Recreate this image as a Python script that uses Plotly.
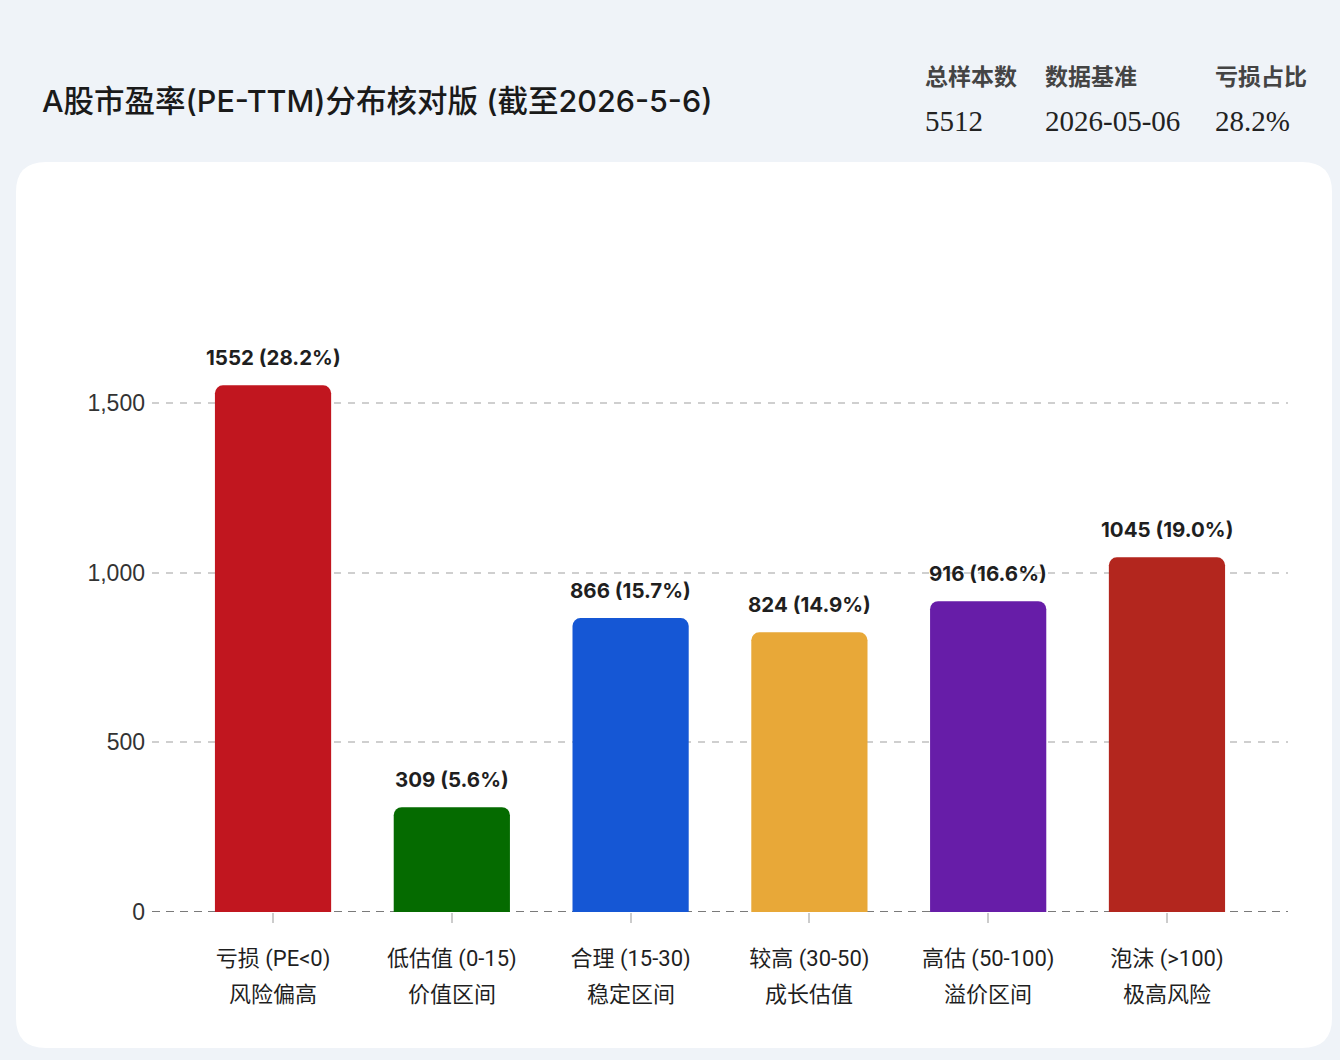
import plotly.graph_objects as go

# ---------------- data ----------------
categories = ["亏损 (PE<0)", "低估值 (0-15)", "合理 (15-30)", "较高 (30-50)", "高估 (50-100)", "泡沫 (>100)"]
subtitles = ["风险偏高", "价值区间", "稳定区间", "成长估值", "溢价区间", "极高风险"]
counts = [1552, 309, 866, 824, 916, 1045]
shares = [28.2, 5.6, 15.7, 14.9, 16.6, 19.0]
bar_colors = ["#c1161f", "#056b00", "#1557d5", "#e8a838", "#671da8", "#b3261e"]
y_ticks = [0, 500, 1000, 1500]
y_tick_text = ["0", "500", "1,000", "1,500"]

title_text = "A股市盈率(PE-TTM)分布核对版 (截至2026-5-6)"
stat_labels = ["总样本数", "数据基准", "亏损占比"]
stat_values = ["5512", "2026-05-06", "28.2%"]

# ---------------- geometry ----------------
W, H = 1340, 1060
L, R, T, B = 152, 52, 200, 148
PW, PH = W - L - R, H - T - B
Y_MAX = 2098
X_RANGE = [-0.677, len(categories) - 1 + 0.677]

SANS = "Inter, Noto Sans CJK SC, sans-serif"
LABEL = "Roboto, Noto Sans CJK SC, sans-serif"


def px(x):
    return (x - L) / PW


def py(y):
    return (H - B - y) / PH


fig = go.Figure()
fig.add_trace(go.Bar(
    x=list(range(len(categories))),
    y=counts,
    marker=dict(color=bar_colors, line=dict(width=0)),
    width=0.65,
    hoverinfo="skip",
))

# value labels above bars
for i, (c, s) in enumerate(zip(counts, shares)):
    fig.add_annotation(
        x=i, y=c, xref="x", yref="y",
        text=f"<b>{c} ({s:.1f}%)</b>",
        showarrow=False, yanchor="middle", yshift=28,
        font=dict(family=SANS, size=20.5, color="#1f1f1f"),
    )

# second line of category labels
for i, sub in enumerate(subtitles):
    fig.add_annotation(
        x=i, y=py(994), xref="x", yref="paper",
        text=sub, showarrow=False, yanchor="middle",
        font=dict(family=LABEL, size=22, color="#1f1f1f"),
    )

# header
fig.add_annotation(
    x=px(40), y=py(100), xref="paper", yref="paper", xanchor="left", yanchor="middle",
    text=title_text, showarrow=False,
    font=dict(family=SANS, size=30.5, color="#1a1a1a", weight=500),
)
stat_x = [923, 1043, 1213]
for sx, lab, val in zip(stat_x, stat_labels, stat_values):
    fig.add_annotation(
        x=px(sx), y=py(75), xref="paper", yref="paper", xanchor="left", yanchor="middle",
        text=lab, showarrow=False,
        font=dict(family="Noto Sans CJK SC", size=23, color="#444444", weight=600),
    )
    fig.add_annotation(
        x=px(sx), y=py(121), xref="paper", yref="paper", xanchor="left", yanchor="middle",
        text=val, showarrow=False,
        font=dict(family="Liberation Serif, DejaVu Serif, serif", size=29, color="#222222"),
    )

# white card with rounded corners
cx0, cx1, cy0, cy1 = px(16), px(1332), py(1048), py(162)
rx, ry = 30 / PW, 30 / PH
card_path = (
    f"M {cx0 + rx},{cy1} L {cx1 - rx},{cy1} Q {cx1},{cy1} {cx1},{cy1 - ry} "
    f"L {cx1},{cy0 + ry} Q {cx1},{cy0} {cx1 - rx},{cy0} "
    f"L {cx0 + rx},{cy0} Q {cx0},{cy0} {cx0},{cy0 + ry} "
    f"L {cx0},{cy1 - ry} Q {cx0},{cy1} {cx0 + rx},{cy1} Z"
)
fig.add_shape(type="path", path=card_path, xref="paper", yref="paper",
              fillcolor="#ffffff", line=dict(width=0), layer="below")

# dashed baseline at zero
fig.add_shape(type="line", xref="paper", yref="y", x0=0, x1=1, y0=0, y1=0,
              line=dict(color="#7a7a7a", width=2, dash="8px,6px"), layer="below")
# end ticks of the x axis
for xe in (0, 1):
    fig.add_shape(type="line", xref="paper", yref="y", x0=xe, x1=xe,
                  ysizemode="pixel", yanchor=0, y0=0, y1=-10,
                  line=dict(color="#7a7a7a", width=2), layer="below")

fig.update_layout(
    width=W, height=H,
    margin=dict(l=L, r=R, t=T, b=B, pad=0),
    paper_bgcolor="#eff3f8",
    plot_bgcolor="rgba(0,0,0,0)",
    showlegend=False,
    barcornerradius=8,
    font=dict(family=SANS),
)
fig.update_xaxes(
    range=X_RANGE,
    tickmode="array",
    tickvals=list(range(len(categories))),
    ticktext=categories,
    ticks="outside", ticklen=10, tickwidth=2, tickcolor="#cccccc",
    tickfont=dict(family=LABEL, size=22, color="#1f1f1f"),
    ticklabelstandoff=17,
    showgrid=False, zeroline=False, showline=False,
    fixedrange=True,
)
fig.update_yaxes(
    range=[0, Y_MAX],
    tickmode="array",
    tickvals=y_ticks,
    ticktext=y_tick_text,
    ticks="", ticklabelstandoff=6,
    tickfont=dict(family="Liberation Sans, Arial, sans-serif", size=23, color="#333333"),
    showgrid=True, gridcolor="#cfcfcf", gridwidth=1.5, griddash="7px,7px",
    zeroline=False, showline=False,
    fixedrange=True,
)

fig.write_html(
    "out.html",
    config={"displayModeBar": False},
    post_script="document.body.style.margin='0';document.body.style.overflow='hidden';"
                "document.body.style.background='#eff3f8';",
)
